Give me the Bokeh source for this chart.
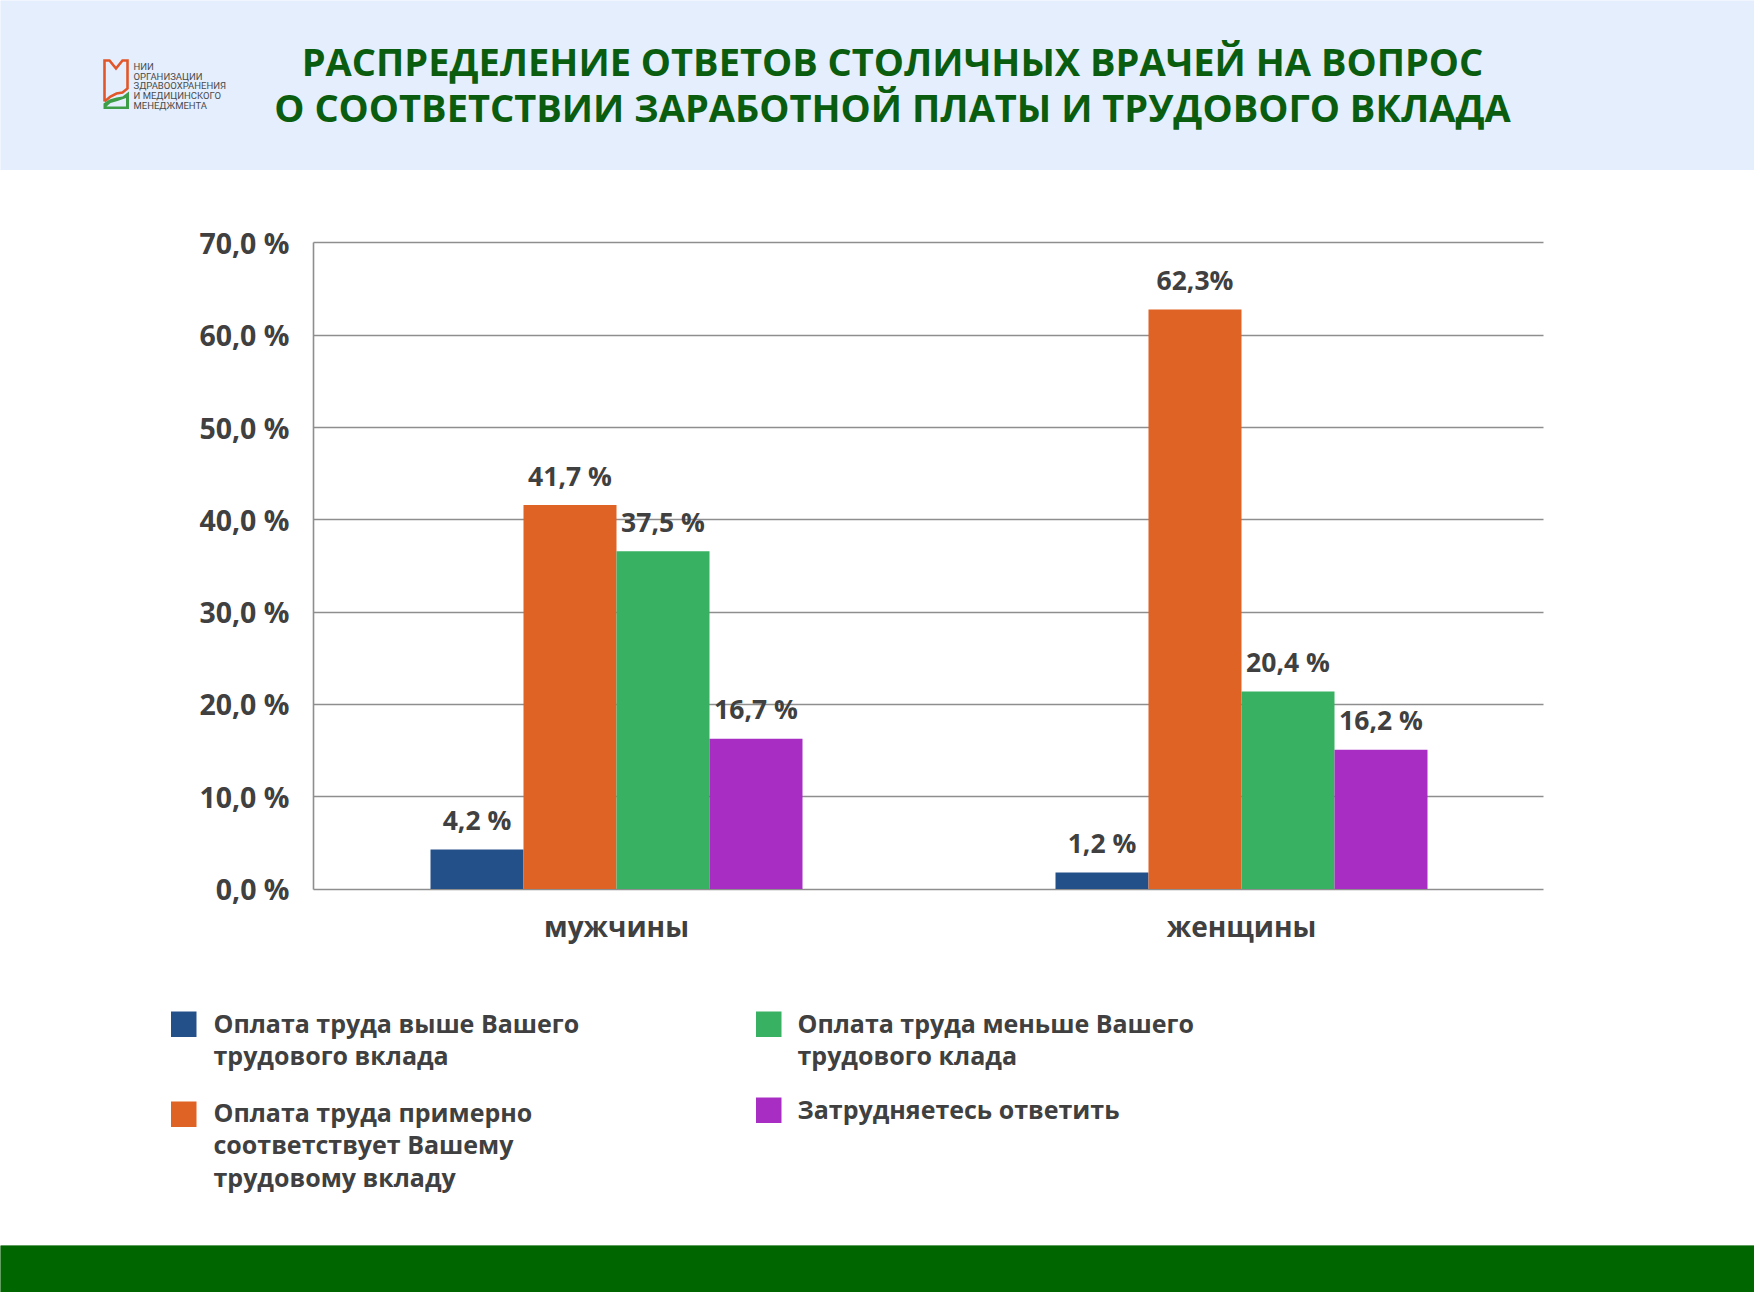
from bokeh.plotting import figure
from bokeh.models import Range1d, FixedTicker, ColumnDataSource, LinearAxis, Grid
from bokeh.layouts import column
from bokeh.transform import dodge
from bokeh.core.properties import value
from bokeh.embed import file_html
from bokeh.resources import INLINE

# ---------------- data ----------------
title_lines = ["РАСПРЕДЕЛЕНИЕ ОТВЕТОВ СТОЛИЧНЫХ ВРАЧЕЙ НА ВОПРОС",
               "О СООТВЕТСТВИИ ЗАРАБОТНОЙ ПЛАТЫ И ТРУДОВОГО ВКЛАДА"]
logo_lines = ["НИИ", "ОРГАНИЗАЦИИ", "ЗДРАВООХРАНЕНИЯ", "И МЕДИЦИНСКОГО", "МЕНЕДЖМЕНТА"]

categories = ["мужчины", "женщины"]

series_names = [
    ["Оплата труда выше Вашего", "трудового вклада"],
    ["Оплата труда примерно", "соответствует Вашему", "трудовому вкладу"],
    ["Оплата труда меньше Вашего", "трудового клада"],
    ["Затрудняетесь ответить"],
]
colors = ["#245089", "#E06326", "#38B262", "#A82EC3"]

# bar heights as drawn (per category: мужчины, женщины)
above_vals = [4.3, 1.8]
approx_vals = [41.6, 62.8]
less_vals = [36.6, 21.4]
hard_vals = [16.3, 15.1]
# printed data labels
above_labels = ["4,2 %", "1,2 %"]
approx_labels = ["41,7 %", "62,3%"]
less_labels = ["37,5 %", "20,4 %"]
hard_labels = ["16,7 %", "16,2 %"]

y_ticks = [0, 10, 20, 30, 40, 50, 60, 70]
y_tick_labels = ["0,0 %", "10,0 %", "20,0 %", "30,0 %", "40,0 %", "50,0 %", "60,0 %", "70,0 %"]

series_vals = [above_vals, approx_vals, less_vals, hard_vals]
series_labels = [above_labels, approx_labels, less_labels, hard_labels]

# ---------------- styles / layout ----------------
FONT = "Open Sans"
TEXT = "#404040"
GRID = "#8e8e8e"
W = 1754
HDR_H, MAIN_H, LEG_H, FT_H = 170, 790, 285, 47

def bare(fig):
    fig.axis.visible = False
    fig.grid.visible = False
    fig.outline_line_color = None

def zero_borders():
    return dict(min_border=0, min_border_left=0, min_border_right=0,
                min_border_top=0, min_border_bottom=0)

# ---------------- header ----------------
hdr = figure(width=W, height=HDR_H, x_range=Range1d(0, W), y_range=Range1d(HDR_H, 0),
             output_backend="svg", toolbar_location=None, **zero_borders(),
             background_fill_color="#E4EEFD", border_fill_color="#E4EEFD")
bare(hdr)
hdr.text(x=[892, 892], y=[60.5, 106.5], text=title_lines, text_align="center",
         text_baseline="alphabetic", text_font=value(FONT), text_font_style="bold",
         text_font_size="38px", text_color="#0A5C0E")
# logo mark
hdr.line(x=[104, 104, 109, 115.5, 122, 127, 127, 122, 116, 110, 104],
         y=[101, 60, 60, 68, 60, 60, 88, 92, 93, 96, 101],
         line_color="#E2572A", line_width=2.6, line_join="miter")
hdr.patch(x=[103, 103, 109, 116, 122, 128.5, 128.5],
          y=[108.5, 103, 99, 97, 96, 91, 108.5], fill_color="#3E9E47", line_color=None)
hdr.patch(x=[106, 110, 117, 125.5, 125.5, 106],
          y=[106, 102.5, 100.5, 97.5, 106, 106], fill_color="#E4EEFD", line_color=None)
hdr.text(x=[133] * len(logo_lines), y=[66.2, 75.7, 85.2, 95.2, 105], text=logo_lines,
         text_align="left", text_baseline="alphabetic", text_font=value("Roboto"),
         text_font_size="9.5px", text_color="#4a4a4a")

# ---------------- main chart (frame spans full width; axes at fixed locations) ----------------
UNIT_X = 625.0          # px per category
CAT0_PX = 616.0         # px of first category centre
ZERO_PX = 888.6 - HDR_H # px of 0 % inside this figure
UNIT_Y = 9.231          # px per 1 %
AX_PX, RIGHT_PX = 313.0, 1543.0

x_lo = 0.5 - CAT0_PX / UNIT_X
x_hi = x_lo + W / UNIT_X
y_hi = ZERO_PX / UNIT_Y
y_lo = -(MAIN_H - ZERO_PX) / UNIT_Y
axis_x = x_lo + AX_PX / UNIT_X
right_x = x_lo + RIGHT_PX / UNIT_X

cat_pos = [i + 0.5 for i in range(len(categories))]

p = figure(width=W, height=MAIN_H, x_range=Range1d(x_lo, x_hi), y_range=Range1d(y_lo, y_hi),
           output_backend="svg", toolbar_location=None, **zero_borders(),
           x_axis_type=None, y_axis_type=None,
           background_fill_color="white", border_fill_color="white")
p.outline_line_color = None
p.grid.visible = False

gkw = dict(dimension=1, ticker=FixedTicker(ticks=y_ticks), grid_line_color=GRID,
           grid_line_width=1.6)
if "cross_bounds" in Grid.properties():
    p.add_layout(Grid(cross_bounds=(axis_x, right_x), **gkw))
else:
    p.segment(x0=[axis_x] * len(y_ticks), x1=[right_x] * len(y_ticks), y0=y_ticks, y1=y_ticks,
              line_color=GRID, line_width=1.6)

bw = 0.1488
offsets = [-1.5 * bw, -0.5 * bw, 0.5 * bw, 1.5 * bw]
for vals, labs, col, off in zip(series_vals, series_labels, colors, offsets):
    src = ColumnDataSource(dict(xc=cat_pos, val=vals, lab=labs))
    p.vbar(x=dodge("xc", off), top="val", width=bw, bottom=0,
           source=src, fill_color=col, line_color=None)
    p.text(x=dodge("xc", off), y="val", text="lab", source=src,
           text_align="center", text_baseline="alphabetic", y_offset=-29.5,
           text_font=value(FONT), text_font_style="bold", text_font_size="26.5px",
           text_color=TEXT)

yax = LinearAxis(fixed_location=axis_x, bounds=(0, 70), ticker=FixedTicker(ticks=y_ticks),
                 major_label_overrides={t: l for t, l in zip(y_ticks, y_tick_labels)},
                 axis_line_color=GRID, axis_line_width=1.6,
                 major_tick_line_color=None, minor_tick_line_color=None,
                 major_tick_out=0, major_tick_in=0, minor_tick_out=0, minor_tick_in=0,
                 major_label_standoff=24,
                 major_label_text_font=FONT, major_label_text_font_style="bold",
                 major_label_text_font_size="28.5px", major_label_text_color=TEXT)
p.add_layout(yax, "left")

xax = LinearAxis(fixed_location=0, ticker=FixedTicker(ticks=cat_pos),
                 major_label_overrides={c: n for c, n in zip(cat_pos, categories)},
                 axis_line_color=None,
                 major_tick_line_color=None, minor_tick_line_color=None,
                 major_tick_out=0, major_tick_in=0, minor_tick_out=0, minor_tick_in=0,
                 major_label_standoff=18,
                 major_label_text_font=FONT, major_label_text_font_style="bold",
                 major_label_text_font_size="28px", major_label_text_color=TEXT)
p.add_layout(xax, "below")

# ---------------- legend ----------------
lg = figure(width=W, height=LEG_H, x_range=Range1d(0, W), y_range=Range1d(1245, 960),
            output_backend="svg", toolbar_location=None, **zero_borders(),
            background_fill_color="white", border_fill_color="white")
bare(lg)
sq_x = [170.5, 170.5, 755.5, 755.5]
sq_top = [1011, 1101, 1011, 1097]
base_y = [1022, 1111, 1022, 1108]
txt_x = [213, 213, 797, 797]
sq = 25.5
line_h = 32.7
lg.quad(left=sq_x, right=[x + sq for x in sq_x], top=sq_top, bottom=[t + sq for t in sq_top],
        fill_color=colors, line_color=None)
tx, ty, tt = [], [], []
for lines, x0, y0 in zip(series_names, txt_x, base_y):
    for k, ln in enumerate(lines):
        tx.append(x0)
        ty.append(y0 + k * line_h)
        tt.append(ln)
lg.text(x=tx, y=ty, text=tt, text_align="left", text_baseline="alphabetic",
        text_font=value(FONT), text_font_style="bold", text_font_size="25px",
        text_color=TEXT)

# ---------------- footer ----------------
ft = figure(width=W, height=FT_H, x_range=Range1d(0, 1), y_range=Range1d(0, 1),
            output_backend="svg", toolbar_location=None, **zero_borders(),
            background_fill_color="#006600", border_fill_color="#006600")
bare(ft)
ft.quad(left=[0], right=[1], bottom=[0], top=[1], fill_color="#006600", line_color=None)

layout = column(hdr, p, lg, ft, spacing=0)

html = file_html(layout, INLINE)
html = html.replace("</head>", "<style>html,body{margin:0;padding:0;overflow:hidden;}</style></head>", 1)
open("out.html", "w").write(html)
